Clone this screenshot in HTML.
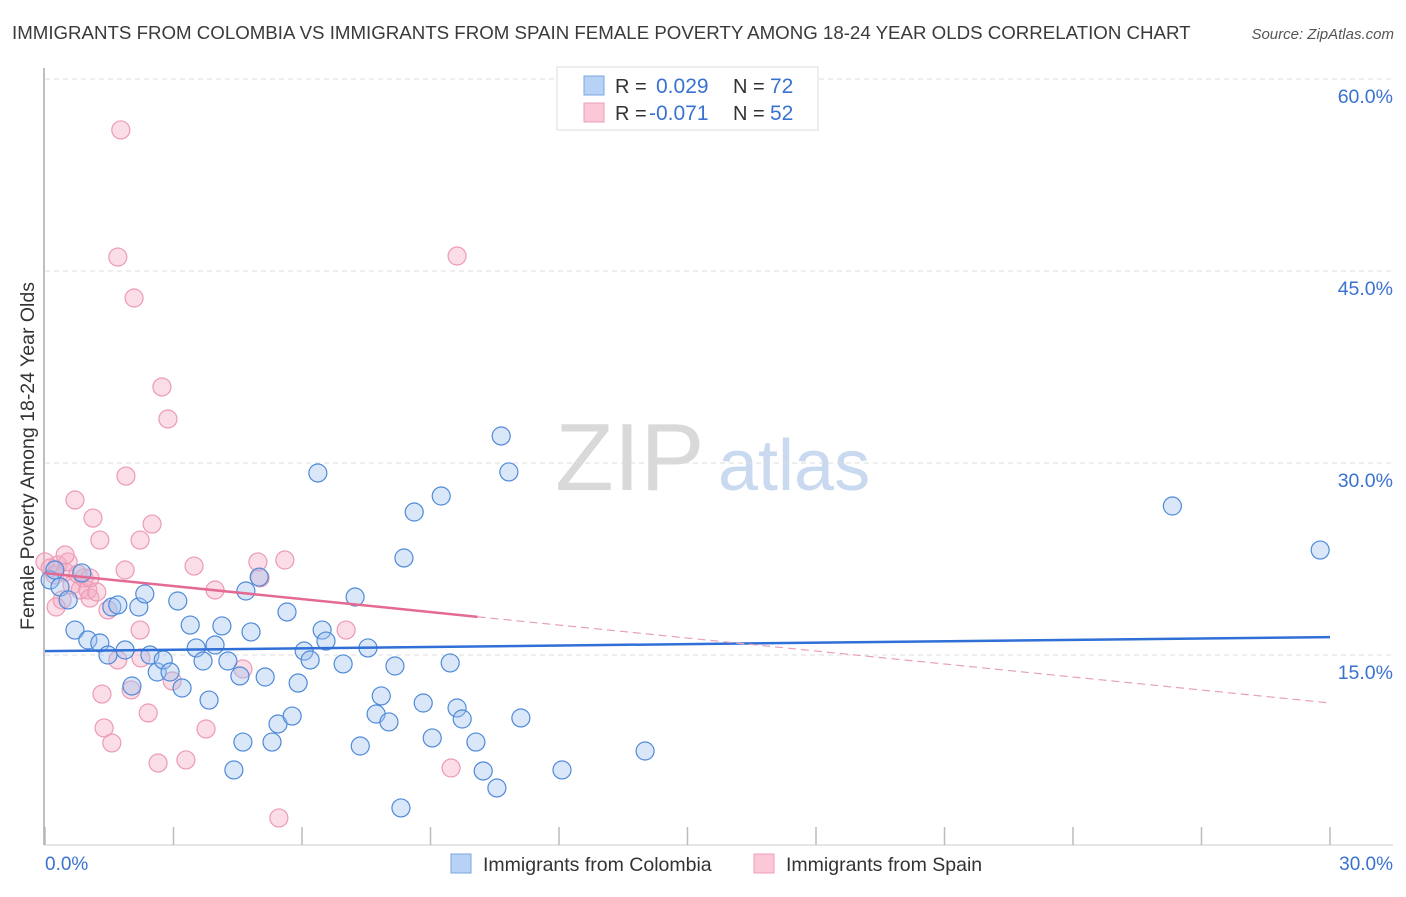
<!DOCTYPE html>
<html><head><meta charset="utf-8"><style>
body{margin:0;background:#fff;font-family:"Liberation Sans",sans-serif;}
svg text{font-family:"Liberation Sans",sans-serif;}
</style></head><body>
<svg id="chart" width="1406" height="892" xmlns="http://www.w3.org/2000/svg">
<text x="12" y="39" font-size="18.7" fill="#3a3a3a">IMMIGRANTS FROM COLOMBIA VS IMMIGRANTS FROM SPAIN FEMALE POVERTY AMONG 18-24 YEAR OLDS CORRELATION CHART</text>
<text x="1394" y="39" font-size="15" fill="#555" font-style="italic" text-anchor="end">Source: ZipAtlas.com</text>
<g>
<text x="555" y="490" font-size="96" fill="#d9d9d9" font-family="Liberation Serif, serif">ZIP</text>
<text x="718" y="490" font-size="72" fill="#c9d9f0">atlas</text>
</g>
<g id="grid"></g>
<g id="axes"></g>
<g id="marks"></g>
<g id="trends"></g>
<text transform="translate(34,456) rotate(-90)" font-size="19.5" fill="#333" text-anchor="middle">Female Poverty Among 18-24 Year Olds</text>
<g>
<rect x="557" y="67" width="261" height="63" fill="#fff" stroke="#ddd"/>
<rect x="584" y="76" width="20" height="19" fill="#b8d2f5" stroke="#7aa6e3"/>
<rect x="584" y="103" width="20" height="19" fill="#fac8d6" stroke="#ef9fb8"/>
<text x="615" y="93" font-size="20" fill="#333">R = </text><text x="656" y="93" font-size="21" fill="#3a72d0">0.029</text>
<text x="733" y="93" font-size="20" fill="#333">N = </text><text x="770" y="93" font-size="21" fill="#3a72d0">72</text>
<text x="615" y="120" font-size="20" fill="#333">R = </text><text x="649" y="120" font-size="21" fill="#3a72d0">-0.071</text>
<text x="733" y="120" font-size="20" fill="#333">N = </text><text x="770" y="120" font-size="21" fill="#3a72d0">52</text>
</g>
<g>
<g><rect x="451" y="854" width="20" height="19" fill="#b8d2f5" stroke="#7aa6e3"/><text x="483" y="871" font-size="19.5" fill="#333">Immigrants from Colombia</text></g>
<g><rect x="754" y="854" width="20" height="19" fill="#fac8d6" stroke="#ef9fb8"/><text x="786" y="871" font-size="19.5" fill="#333">Immigrants from Spain</text></g>
</g>
</svg>
<script>
const yTicks=[15,30,45,60];
const xTickLabels=["0.0%","30.0%"];
const blueX=[0.12,0.23,0.35,0.54,0.70,0.86,1.00,1.28,1.47,1.56,1.70,1.87,2.03,2.19,2.33,2.45,2.62,2.76,2.92,3.10,3.20,3.39,3.53,3.69,3.83,3.97,4.13,4.27,4.41,4.55,4.62,4.69,4.81,5.00,5.14,5.30,5.44,5.65,5.77,5.91,6.05,6.19,6.37,6.47,6.56,6.96,7.24,7.36,7.54,7.73,7.85,8.03,8.17,8.31,8.38,8.62,8.83,9.04,9.25,9.46,9.62,9.74,10.06,10.23,10.55,10.65,10.83,11.11,12.07,14.01,26.32,29.77];
const blueY=[20.86,21.64,20.31,19.30,16.95,21.41,16.17,15.94,15.00,18.75,18.91,15.39,12.58,18.75,19.77,15.00,13.67,14.61,13.67,19.22,12.42,17.34,15.55,14.53,11.48,15.78,17.27,14.53,6.02,13.36,8.20,20.00,16.80,21.09,13.28,8.20,9.61,18.36,10.23,12.81,15.31,14.61,29.22,16.95,16.09,14.30,19.53,7.89,15.55,10.39,11.80,9.77,14.14,3.05,22.58,26.17,11.25,8.52,27.42,14.38,10.86,10.00,8.20,5.94,4.61,32.11,29.30,10.08,6.02,7.50,26.64,23.20];
const pinkX=[0.00,0.12,0.23,0.30,0.40,0.47,0.54,0.63,0.70,0.77,0.82,0.91,1.00,1.05,1.12,1.21,1.28,1.33,1.38,1.47,1.56,1.70,1.77,1.87,1.89,2.01,2.08,2.22,2.24,2.41,2.50,2.64,2.73,2.87,2.97,3.29,3.48,3.76,4.62,4.97,5.02,5.46,5.60,7.03,9.48,9.62,0.26,0.47,1.70,1.05,2.22,3.97];
const pinkY=[22.27,21.80,21.25,22.03,19.30,21.48,22.27,20.47,27.11,21.33,20.08,21.02,20.08,19.45,25.70,19.92,23.98,11.95,9.30,18.52,8.13,14.61,56.02,21.64,28.98,12.27,42.89,23.98,14.77,10.47,25.23,6.56,35.94,33.44,12.97,6.80,21.95,9.22,13.91,22.27,21.02,2.27,22.42,16.95,6.17,46.17,18.75,22.81,46.09,21.02,16.95,20.08];
const blueTrend=[15.3,16.4];
const pinkTrend=[21.4,11.25];
const pinkSolidEnd=10.1;

const NS="http://www.w3.org/2000/svg";
const X0=45,X1=1330,Y0=847;
const xs=v=>X0+(v/30)*(X1-X0);
const ys=v=>Y0-v*192/15;
function mk(tag,attrs,parent){const e=document.createElementNS(NS,tag);for(const k in attrs)e.setAttribute(k,attrs[k]);parent.appendChild(e);return e;}
const grid=document.getElementById('grid'),axes=document.getElementById('axes'),marks=document.getElementById('marks'),trends=document.getElementById('trends');
yTicks.forEach(t=>{
  const l=mk('line',{x1:45,x2:1393,y1:ys(t),y2:ys(t),stroke:'#ddd','stroke-dasharray':'5,4'},grid);
  
  
  const tx=mk('text',{x:1393,y:ys(t)+24,'font-size':19.5,fill:'#3a72d0','text-anchor':'end'},axes);
  tx.textContent=t.toFixed(1)+'%';
  
  
});
const ax=mk('line',{x1:44,x2:44,y1:68,y2:845,stroke:'#aaa','stroke-width':1.5},axes);


const bx=mk('line',{x1:44,x2:1393,y1:845,y2:845,stroke:'#ccc'},axes);


for(let i=0;i<=10;i++){
  const t=mk('line',{x1:xs(i*3),x2:xs(i*3),y1:827,y2:845,stroke:'#bbb','stroke-width':1.5},axes);
  
  
}
const xl0=mk('text',{x:45,y:870,'font-size':19,fill:'#3a72d0'},axes);xl0.textContent=xTickLabels[0];


const xl1=mk('text',{x:1393,y:870,'font-size':19,fill:'#3a72d0','text-anchor':'end'},axes);xl1.textContent=xTickLabels[1];


pinkX.forEach((v,i)=>{
  const c=mk('circle',{cx:xs(v),cy:ys(pinkY[i]),r:9,fill:'rgba(245,170,195,0.4)',stroke:'#ec9ab5','stroke-width':1.2},marks);
  
  
});
blueX.forEach((v,i)=>{
  const c=mk('circle',{cx:xs(v),cy:ys(blueY[i]),r:9,fill:'rgba(160,195,240,0.4)',stroke:'#4f8ad8','stroke-width':1.2},marks);
  
  
});
const bl=mk('line',{x1:xs(0),y1:ys(blueTrend[0]),x2:xs(30),y2:ys(blueTrend[1]),stroke:'#2f6fd6','stroke-width':2.5},trends);


const pAt=x=>pinkTrend[0]+(pinkTrend[1]-pinkTrend[0])*x/30;
const pl=mk('line',{x1:xs(0),y1:ys(pinkTrend[0]),x2:xs(pinkSolidEnd),y2:ys(pAt(pinkSolidEnd)),stroke:'#e46a93','stroke-width':2.5},trends);


const pd=mk('line',{x1:xs(pinkSolidEnd),y1:ys(pAt(pinkSolidEnd)),x2:xs(30),y2:ys(pinkTrend[1]),stroke:'#e8a0b8','stroke-width':1.2,'stroke-dasharray':'8,5'},trends);


</script>
</body></html>
